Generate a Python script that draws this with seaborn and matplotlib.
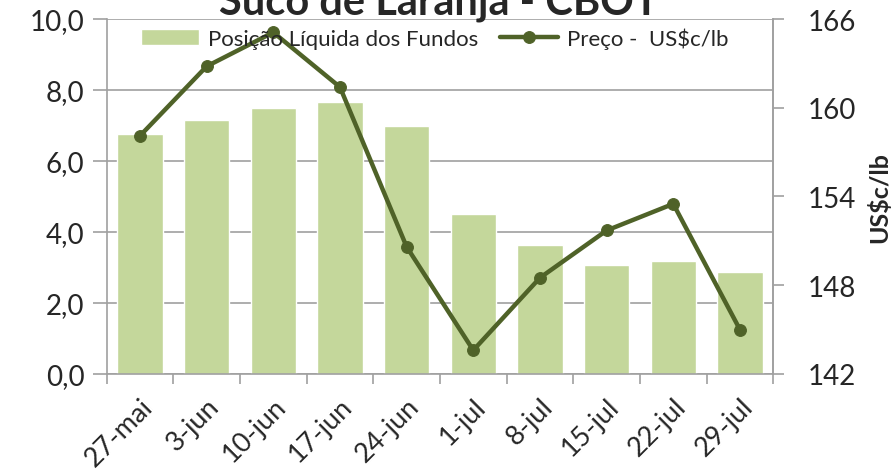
import numpy as np
import pandas as pd
import seaborn as sns
import matplotlib.pyplot as plt
from matplotlib.ticker import FuncFormatter, FixedLocator

# data
semanas = ['27-mai', '3-jun', '10-jun', '17-jun', '24-jun',
           '1-jul', '8-jul', '15-jul', '22-jul', '29-jul']
posicao_fundos = [6.76, 7.15, 7.49, 7.66, 6.99, 4.51, 3.63, 3.07, 3.18, 2.87]
preco = [158.1, 162.8, 165.1, 161.4, 150.6, 143.6, 148.5, 151.7, 153.5, 145.0]

df = pd.DataFrame({'semana': semanas, 'posicao': posicao_fundos,
                   'preco': preco, 'pos': np.arange(len(semanas))})

sns.set_theme(style='white')
plt.rcParams['font.family'] = ['Lato', 'DejaVu Sans']

cor_barra = '#C4D79B'
cor_linha = '#4F6228'
cinza = '#A0A0A0'

fig = plt.figure(figsize=(8.96, 4.77), dpi=100)
ax = fig.add_axes([0.119, 0.214, 0.744, 0.744])

sns.barplot(data=df, x='semana', y='posicao', color=cor_barra, width=0.68,
            saturation=1, ax=ax, label='Posição Líquida dos Fundos', zorder=2)
if ax.legend_ is not None:
    ax.legend_.remove()
ax.set_ylim(0, 10)
ax.set_xlim(-0.5, len(semanas) - 0.5)
ax.set_yticks(np.arange(0, 10.1, 2))
ax.yaxis.set_major_formatter(FuncFormatter(lambda v, p: f'{v:.1f}'.replace('.', ',')))
ax.grid(axis='y', color=cinza, linewidth=1.2, zorder=0)
ax.set_axisbelow(True)
ax.set_xlabel('')
# the left axis title sits almost entirely outside the picture, as in the original
ax.set_ylabel('Mil contratos', fontsize=17, fontweight='bold')
ax.yaxis.set_label_coords(-0.19, 0.5)

# category boundary ticks on x
ax.xaxis.set_minor_locator(FixedLocator(np.arange(-0.5, len(semanas), 1)))
ax.tick_params(axis='x', which='major', length=0, labelsize=19.5, pad=14)
ax.tick_params(axis='x', which='minor', length=7, width=1.2, color=cinza, direction='out', bottom=True)
ax.tick_params(axis='y', length=10, width=1.2, color=cinza, direction='out', labelsize=20, left=True, pad=6)
plt.setp(ax.get_xticklabels(), rotation=45, ha='right', rotation_mode='anchor')

for s in ['left', 'right', 'bottom']:
    ax.spines[s].set_color(cinza)
    ax.spines[s].set_linewidth(1.2)
ax.spines['top'].set_visible(False)

ax2 = ax.twinx()
sns.lineplot(data=df, x='pos', y='preco', color=cor_linha, linewidth=3.2,
             marker='o', markersize=8.5, markeredgecolor=cor_linha,
             ax=ax2, label='Preço -  US$c/lb')
ax2.set_ylim(142, 166)
ax2.set_yticks(np.arange(142, 167, 6))
ax2.set_xlim(-0.5, len(semanas) - 0.5)
ax2.tick_params(axis='y', length=8, width=1.2, color=cinza, direction='out', labelsize=20, right=True, pad=17)
ax2.set_ylabel('US$c/lb', fontsize=18, fontweight='bold', labelpad=8)
ax2.set_xlabel('')
for s in ax2.spines.values():
    s.set_visible(False)
ax2.spines['right'].set_visible(True)
ax2.spines['right'].set_color(cinza)
ax2.spines['right'].set_linewidth(1.2)
if ax2.legend_ is not None:
    ax2.legend_.remove()

h1, l1 = ax.get_legend_handles_labels()
h2, l2 = ax2.get_legend_handles_labels()
fig.legend(h1 + h2, l1 + l2, loc='center', bbox_to_anchor=(0.485, 0.918), ncol=2,
           frameon=False, fontsize=16, handlelength=2.6, columnspacing=1.0, handletextpad=0.4)

fig.text(0.49, 0.969, 'Suco de Laranja - CBOT', ha='center', va='baseline',
         fontsize=30, fontweight='bold')

fig.savefig('out.png', dpi=100)
